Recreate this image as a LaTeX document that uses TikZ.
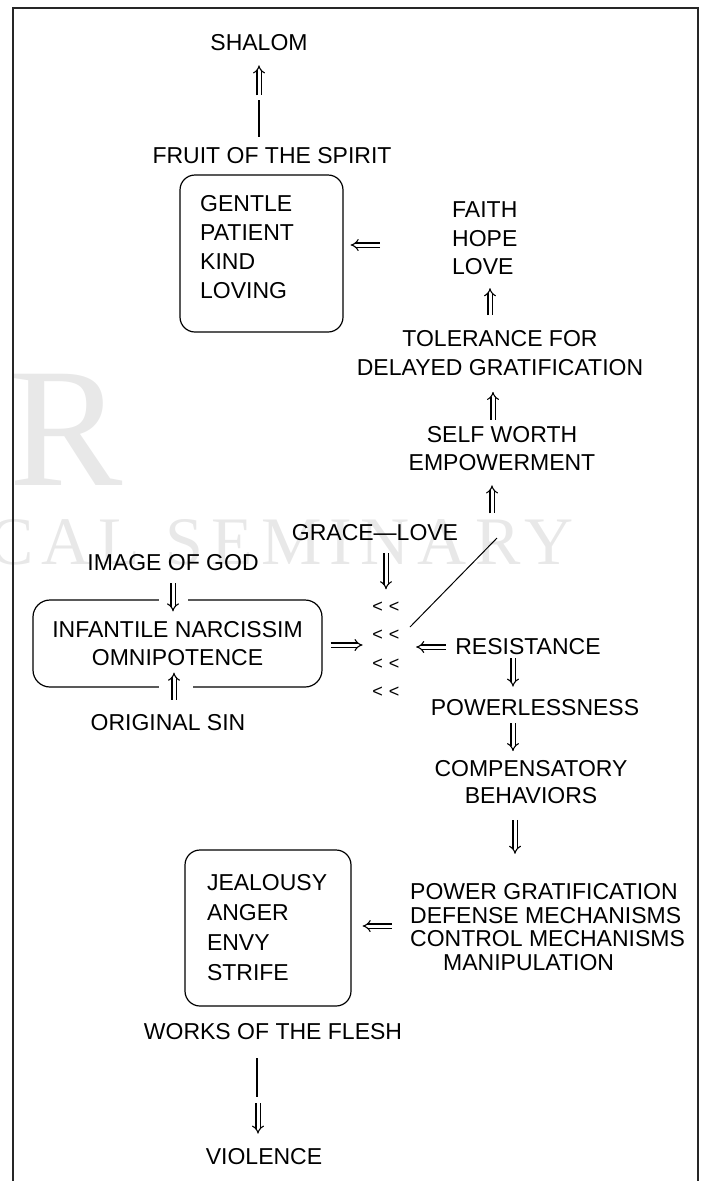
\documentclass[tikz,border=0pt]{standalone}
\usepackage{fontspec}
\setmainfont{Liberation Sans}
\newfontfamily\wmfont{Liberation Serif}
\newfontfamily\wmwide[LetterSpace=12]{Liberation Serif}
\usetikzlibrary{arrows.meta,calc}
\begin{document}
\begin{tikzpicture}[x=1pt,y=-1pt,
  every node/.style={inner sep=0pt, font=\fontsize{23}{29}\selectfont},
  lbl/.style={align=center},
  lst/.style={align=left, anchor=west},
  rbox/.style={draw, line width=1.2pt, rounded corners=15pt},
  dblar/.style={double, double distance=3pt, line width=1.1pt, -{Implies}},
  plainline/.style={line width=1.3pt},
  wm/.style={text=black!9},
]
\useasboundingbox (0,0) rectangle (702,1181);

% watermark
\node[wm, font=\wmfont\fontsize{170}{170}\selectfont] (wmR) at (66,430) {R};
\node[wm, font=\wmwide\fontsize{68}{68}\selectfont, anchor=west] (wmS) at (-12,542) {CAL SEMINARY};

% frame
\draw[line width=2pt, black!85] (13,1181) -- (13,8) -- (698,8) -- (698,1181);

% nodes
\node (shalom) at (259,43) {SHALOM};
\node (fruit) at (272,156) {FRUIT OF THE SPIRIT};
\node[rbox, minimum width=163pt, minimum height=157pt] (fruitbox) at (261.5,253.5) {};
\node[lst] (fruitlist) at (200,247) {GENTLE\\PATIENT\\KIND\\LOVING};
\node[lst, font=\fontsize{23}{28.5}\selectfont] (faith) at (452,238.5) {FAITH\\HOPE\\LOVE};
\node[lbl] (tol) at (500,353) {TOLERANCE FOR\\DELAYED GRATIFICATION};
\node[lbl, font=\fontsize{23}{28}\selectfont] (self) at (502,449) {SELF WORTH\\EMPOWERMENT};
\node (grace) at (375,533) {GRACE—LOVE};
\node (image) at (173,563) {IMAGE OF GOD};
\node[rbox, rounded corners=17pt, align=center, minimum width=289pt, minimum height=87pt,
      font=\fontsize{23}{28}\selectfont] (narc) at (177.5,643.5) {INFANTILE NARCISSIM\\OMNIPOTENCE};
\node (orig) at (168,723) {ORIGINAL SIN};
\node[align=center, font=\fontsize{18}{28.5}\selectfont] (mid) at (386,649.5)
  {<\hspace{6pt}<\\<\hspace{6pt}<\\<\hspace{6pt}<\\<\hspace{6pt}<};
\node (resist) at (528,647) {RESISTANCE};
\node (power) at (535,708) {POWERLESSNESS};
\node[lbl, font=\fontsize{23}{27}\selectfont] (comp) at (531,782) {COMPENSATORY\\BEHAVIORS};
\node[rbox, minimum width=166pt, minimum height=156pt, text width=122pt, align=left,
      font=\fontsize{23}{30}\selectfont] (fleshbox) at (268,928) {JEALOUSY\\ANGER\\ENVY\\STRIFE};
\node[lst, font=\fontsize{23}{23.5}\selectfont] (mech) at (410,927)
  {POWER GRATIFICATION\\DEFENSE MECHANISMS\\CONTROL MECHANISMS\\\hspace*{33pt}MANIPULATION};
\node (works) at (273,1032) {WORKS OF THE FLESH};
\node (violence) at (264,1157) {VIOLENCE};

% gaps in the narcissism box border
\fill[white] (159,596) rectangle (188,604);
\fill[white] (159,683) rectangle (193,691);

% connectors
\draw[plainline] ($(fruit.north -| shalom.south)+(0,-11)$) -- ($(shalom.south)+(0,49)$);
\draw[dblar] ($(shalom.south)+(0,44)$) -- ($(shalom.south)+(0,14)$);
\draw[dblar] ($(faith.west |- fruitbox.east)+(-72,-8.5)$) -- ($(fruitbox.east)+(7,-8.5)$);
\draw[dblar] ($(tol.north)+(-10,-15)$) -- ($(faith.south -| tol.north)+(-10,13)$);
\draw[dblar] ($(self.north)+(-9,-7)$) -- ($(tol.south -| self.north)+(-9,16)$);
\draw[dblar] ($(self.south)+(-10,42)$) -- ($(self.south)+(-10,14)$);
\coordinate (dg1) at (410,627);
\coordinate (dg2) at (497,538);
\draw[line width=1pt] (dg1) -- (dg2);
\draw[dblar] ($(grace.south)+(11,12)$) -- ($(mid.north -| grace.south)+(11,-12)$);
\draw[dblar] ($(image.south)+(0,12)$) -- ($(narc.north -| image.south)+(0,12)$);
\draw[dblar] ($(orig.north)+(6,-15)$) -- ($(narc.south -| orig.north)+(6,-15)$);
\draw[dblar] ($(narc.east)+(8,1.5)$) -- ($(narc.east)+(40,1.5)$);
\draw[dblar] ($(resist.west)+(-9,0)$) -- ($(resist.west)+(-39,0)$);
\draw[dblar] ($(resist.south)+(-15,3)$) -- ($(power.north -| resist.south)+(-15,-13)$);
\draw[dblar] ($(power.south)+(-22,7)$) -- ($(comp.north -| power.south)+(-22,-9)$);
\draw[dblar] ($(comp.south)+(-16,16)$) -- ($(comp.south)+(-16,50)$);
\draw[dblar] ($(mech.west |- fleshbox.east)+(-18,-2)$) -- ($(fleshbox.east)+(11,-2)$);
\draw[plainline] ($(works.south)+(-16,18)$) -- ($(works.south)+(-16,57)$);
\draw[dblar] ($(works.south)+(-15,63)$) -- ($(violence.north)+(-6,-15)$);
\end{tikzpicture}
\end{document}
